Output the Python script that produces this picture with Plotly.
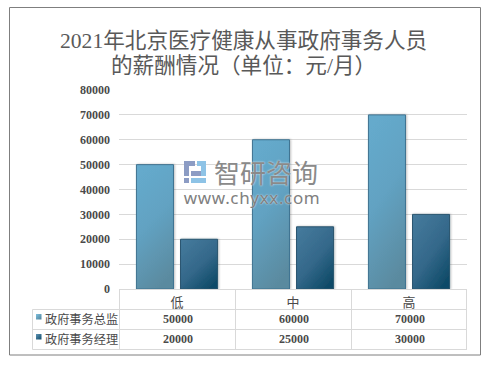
import plotly.graph_objects as go

categories = ["低", "中", "高"]
series_names = ["政府事务总监", "政府事务经理"]
director_pay = [50000, 60000, 70000]
manager_pay = [20000, 25000, 30000]
y_ticks = [0, 10000, 20000, 30000, 40000, 50000, 60000, 70000, 80000]
title_lines = ["2021年北京医疗健康从事政府事务人员", "的薪酬情况（单位：元/月）"]
watermark_cn = "智研咨询"
watermark_url = "www.chyxx.com"

W, H = 503, 365
L, R, T, B = 119, 467, 90, 289
PW, PH = R - L, B - T
FONT = "Liberation Serif, Noto Sans CJK SC"
TXT = "#595959"
DARK = "#4A4A4A"
GRID = "#D9D9D9"


def px(x):
    return (x - L) / PW


def py(y):
    return (B - y) / PH


fig = go.Figure()
fig.add_bar(name=series_names[0], x=categories, y=director_pay,
            marker=dict(color="#5F9CB8", line=dict(color="#3F7391", width=1)))
fig.add_bar(name=series_names[1], x=categories, y=manager_pay,
            marker=dict(color="#2F6585", line=dict(color="#2A5670", width=1)))

shapes = []


def line(x0, y0, x1, y1, color=GRID, width=1):
    shapes.append(dict(type="line", xref="paper", yref="paper", x0=px(x0), x1=px(x1),
                       y0=py(y0), y1=py(y1), line=dict(color=color, width=width), layer="above"))


def rect(x0, y0, x1, y1, fill, border=None, width=0):
    shapes.append(dict(type="rect", xref="paper", yref="paper", x0=px(x0), x1=px(x1),
                       y0=py(y0), y1=py(y1), fillcolor=fill, layer="above",
                       line=dict(color=border or fill, width=width)))


# outer frame
shapes.append(dict(type="rect", xref="paper", yref="paper", x0=px(9.5), x1=px(480.5),
                   y0=py(7.5), y1=py(355), line=dict(color="#7F7F7F", width=1), layer="below"))
# table
rows = [309.5, 329.5, 349.5]
for y in rows:
    line(32.5, y, 467, y)
line(119, 289.5, 467, 289.5)
for x in [119.5, 235.5, 351.5, 466.5]:
    line(x, 289.5, x, 349.5)
line(32.5, 309.5, 32.5, 349.5)
# legend keys
rect(36, 314, 41.5, 319.5, "#5F9CB8")
rect(36, 334, 41.5, 339.5, "#2F6585")
# watermark logo
logo = "#8C9CC4"
logo2 = "#8EC3E6"
rect(184, 161, 195, 166, logo)
rect(184, 166, 189, 176, logo)
rect(184, 178, 189, 183, logo)
rect(191, 171, 201, 176, logo)
rect(197, 161, 206, 166, logo2)
rect(201, 166, 206, 176, logo2)
rect(191, 178, 206, 183, logo2)

annotations = []


def text(x, y, s, size=12, anchor="center", color=DARK, family=FONT, weight="normal", shadow="none"):
    annotations.append(dict(xref="paper", yref="paper", x=px(x), y=py(y), text=s, showarrow=False,
                            xanchor=anchor, yanchor="middle",
                            font=dict(size=size, color=color, family=family, weight=weight, shadow=shadow)))


text(243, 41, title_lines[0], size=21.6, color=TXT)
text(243, 65.5, title_lines[1], size=21.6, color=TXT)

centers = [177.5, 293.5, 409.5]
for i, name in enumerate(series_names):
    vals = [director_pay, manager_pay][i]
    yc = 319 + 20 * i
    text(43, yc, name, anchor="left", size=12.2)
    for xc, v in zip(centers, vals):
        text(xc, yc, str(v), weight="bold")

HALO = "0 0 2px rgba(255,255,255,0.9)"
text(265.5, 171, watermark_cn, size=26, color="#8A8A8A", family="Noto Sans CJK SC", shadow=HALO)
text(252, 197, watermark_url, size=17, color="#808080", family="Noto Sans", shadow=HALO)

fig.update_layout(
    width=W, height=H,
    margin=dict(l=L, r=W - R, t=T, b=H - B, pad=0),
    paper_bgcolor="white", plot_bgcolor="white",
    showlegend=False, barmode="group", bargap=0.24, bargroupgap=0.16,
    font=dict(family=FONT, color=DARK, size=12),
    xaxis=dict(showgrid=False, showline=False, zeroline=False, ticks="",
               ticklabelstandoff=4, tickfont=dict(size=13, color=DARK, family=FONT)),
    yaxis=dict(range=[0, 80000], tickvals=y_ticks, ticktext=[str(v) for v in y_ticks],
               showgrid=True, gridcolor=GRID, gridwidth=1, zeroline=False, showline=False,
               ticks="", ticklabelstandoff=8, tickfont=dict(size=12, color=DARK, family=FONT, weight="bold")),
    shapes=shapes, annotations=annotations,
)

post = """
document.body.style.margin = '0';
document.documentElement.style.overflow = 'hidden';
var gd = document.getElementsByClassName('plotly-graph-div')[0];
var svg = gd.querySelector('svg.main-svg');
var NS = 'http://www.w3.org/2000/svg';
var defs = document.createElementNS(NS, 'defs');
function grad(id, x1, y1, x2, y2, stops) {
  var g = document.createElementNS(NS, 'linearGradient');
  g.setAttribute('id', id);
  g.setAttribute('x1', x1); g.setAttribute('y1', y1);
  g.setAttribute('x2', x2); g.setAttribute('y2', y2);
  stops.forEach(function (s) {
    var e = document.createElementNS(NS, 'stop');
    e.setAttribute('offset', s[0]); e.setAttribute('stop-color', s[1]);
    g.appendChild(e);
  });
  defs.appendChild(g);
}
grad('g0', 0.3, 0, 0.6, 1, [[0, '#65AACC'], [0.45, '#62A2C2'], [1, '#5A8A9F']]);
grad('g1', 0.1, 0, 0.8, 1, [[0, '#457A9C'], [0.55, '#34688A'], [1, '#0E4A67']]);
grad('k0', 0, 0, 1, 1, [[0, '#7FC0DE'], [1, '#4E8199']]);
grad('k1', 0, 0, 1, 1, [[0, '#5F93B5'], [1, '#0E4A67']]);
var f = document.createElementNS(NS, 'filter');
f.setAttribute('id', 'sh');
f.setAttribute('x', '-10%'); f.setAttribute('width', '125%');
f.setAttribute('y', '-5%'); f.setAttribute('height', '110%');
f.innerHTML = '<feDropShadow dx="1" dy="0" stdDeviation="1" flood-color="#000" flood-opacity="0.25"/>';
defs.appendChild(f);
svg.insertBefore(defs, svg.firstChild);
gd.querySelectorAll('.barlayer .trace').forEach(function (t, i) {
  t.querySelectorAll('.point path').forEach(function (p) {
    p.style.fill = 'url(#g' + i + ')';
    p.style.filter = 'url(#sh)';
  });
});
gd.querySelectorAll('.shapelayer path').forEach(function (p) {
  if (p.style.fill === 'rgb(95, 156, 184)') p.style.fill = 'url(#k0)';
  if (p.style.fill === 'rgb(47, 101, 133)') p.style.fill = 'url(#k1)';
});
gd.querySelectorAll('.annotation-text').forEach(function (t) {
  if (t.textContent.indexOf('www') === 0) t.style.letterSpacing = '0.65px';
});
"""

fig.write_html("out.html", post_script=post, config=dict(displayModeBar=False))
